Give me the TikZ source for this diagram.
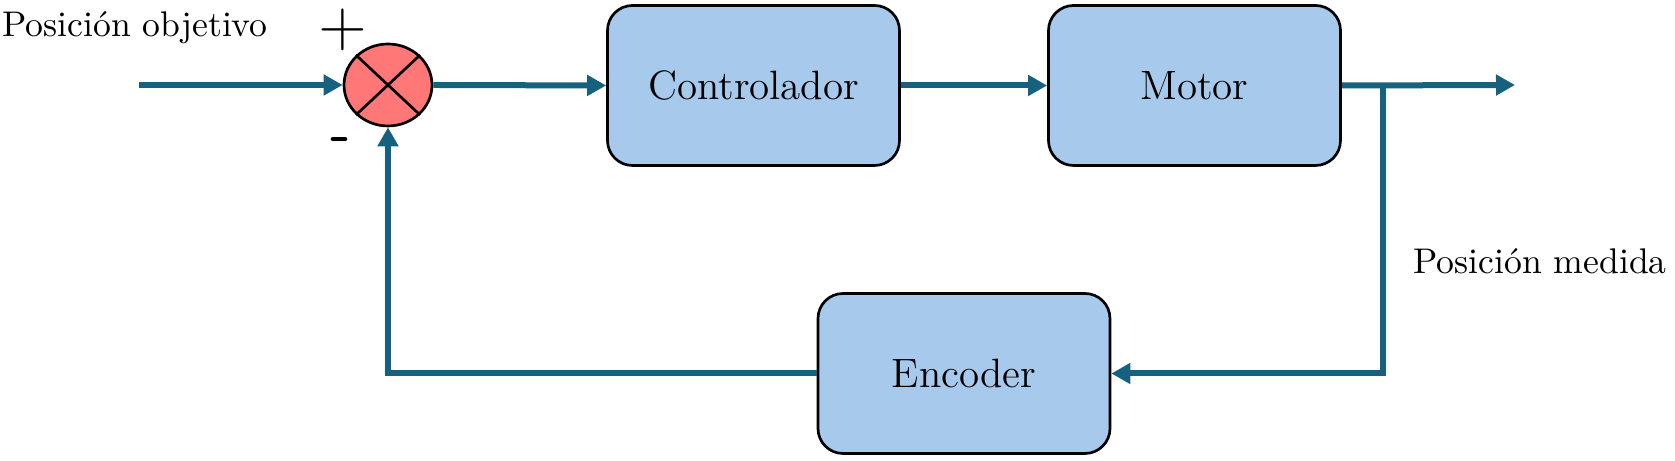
\documentclass[tikz,border=0pt]{standalone}
\usetikzlibrary{arrows.meta,shapes.geometric}
\definecolor{linec}{RGB}{23,97,128}
\definecolor{boxfill}{RGB}{167,202,236}
\definecolor{sumfill}{RGB}{255,119,119}
\begin{document}
\begin{tikzpicture}[x=0.3pt,y=-0.3pt,
  block/.style={draw=black,line width=0.8pt,fill=boxfill,rounded corners=7.5pt,
    minimum width=87.6pt,minimum height=48pt,font=\fontsize{12.3}{15}\selectfont,inner sep=0pt},
  sumnode/.style={draw=black,line width=0.8pt,fill=sumfill,ellipse,
    minimum width=26.4pt,minimum height=24.6pt,inner sep=0pt},
  arr/.style={draw=linec,line width=1.8pt,-{Triangle[length=5.7pt,width=6pt]}},
  lbl/.style={font=\fontsize{10.7}{13}\selectfont,inner sep=0pt},
  sign/.style={font=\fontsize{20}{20}\selectfont\sffamily,inner sep=0pt}]
\useasboundingbox (0,0) rectangle (1675,461);
\node[sumnode] (sum) at (388,85) {};
\draw[line width=0.8pt] (sum.north west) -- (sum.south east);
\draw[line width=0.8pt] (sum.north east) -- (sum.south west);
\node[block] (ctrl) at (753.5,85.5) {Controlador};
\node[block] (mot) at (1194.5,85.5) {Motor};
\node[block] (enc) at (964,373.5) {Encoder};
\node[lbl] (lobj) at (135,28) {Posición objetivo};
\node[lbl] (lmed) at (1540,261) {Posición medida};
\node[sign] (plus) at (343,30) {+};
\node[sign,font=\fontsize{17}{17}\selectfont\sffamily\bfseries] (minus) at (341,145) {-};
\coordinate (in) at (139,85);
\coordinate (out) at (1515,85);
\coordinate (br) at (1383,85);
\draw[arr] (in) -- (sum.west);
\draw[arr] (sum.east) -- (ctrl.west);
\draw[arr] (ctrl.east) -- (mot.west);
\draw[arr] (mot.east) -- (out);
\draw[arr] (br) |- (enc.east);
\draw[arr] (enc.west) -| (sum.south);
\end{tikzpicture}
\end{document}
